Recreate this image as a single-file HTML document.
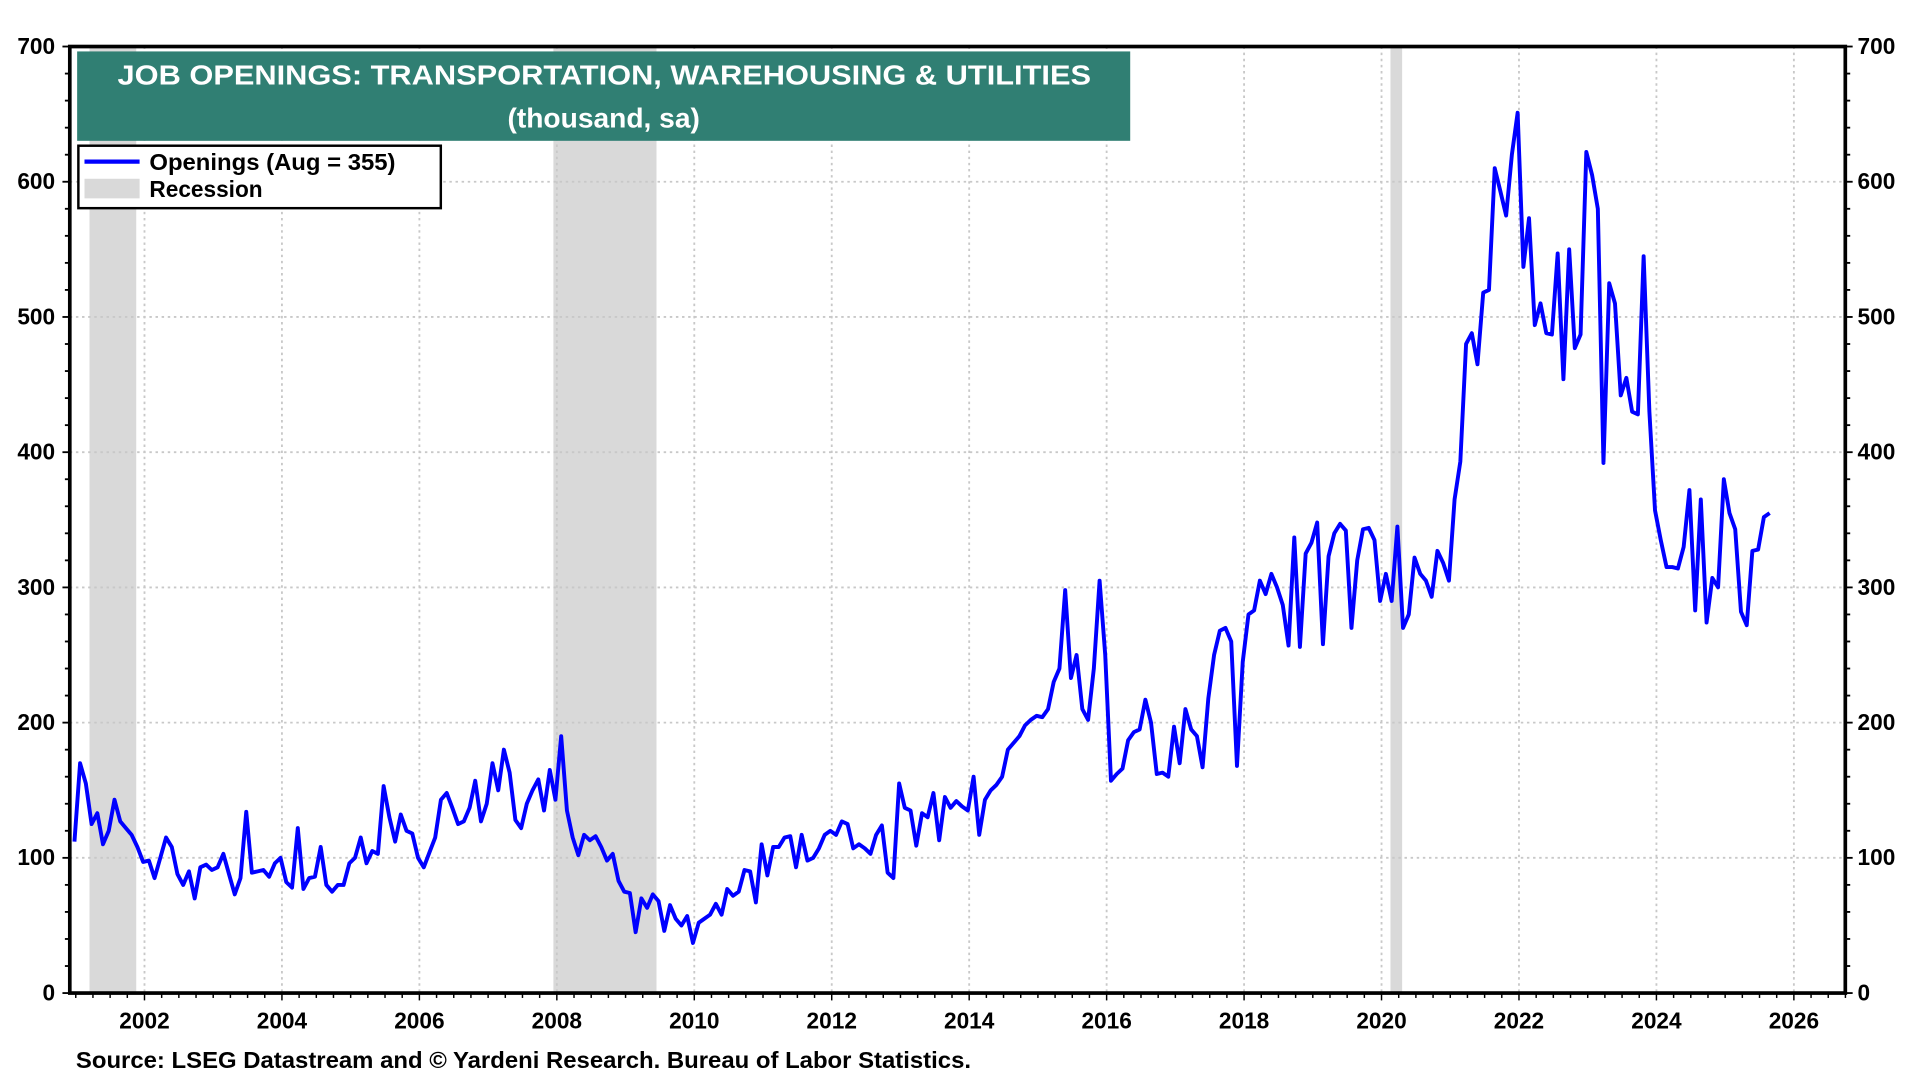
<!DOCTYPE html>
<html><head><meta charset="utf-8"><style>
html,body{margin:0;padding:0;background:#fff;}
svg{display:block;font-family:"Liberation Sans",Arial,sans-serif;font-weight:bold;}
</style></head><body>
<svg id="c" width="1920" height="1080" viewBox="0 0 1568 882" xmlns="http://www.w3.org/2000/svg">
<rect x="0" y="0" width="1568" height="882" fill="#fff"/>
<g id="rec"></g>
<g id="grid"></g>
<path id="line" fill="none" stroke="#0000ff" stroke-width="3.2" stroke-linejoin="round"/>
<rect x="63" y="42" width="860" height="73" fill="#307f73"/>
<text x="96" y="69" fill="#fff" font-size="23" textLength="795" lengthAdjust="spacingAndGlyphs">JOB OPENINGS: TRANSPORTATION, WAREHOUSING &amp; UTILITIES</text>
<text x="493" y="104" fill="#fff" font-size="23" text-anchor="middle">(thousand, sa)</text>
<rect x="64" y="119" width="296" height="51" fill="#fff" stroke="#000" stroke-width="2"/>
<line x1="69" y1="132" x2="114" y2="132" stroke="#0000ff" stroke-width="3.5"/>
<rect x="69" y="146" width="45" height="16" fill="#d9d9d9"/>
<text x="122" y="139" font-size="18.5" textLength="201" lengthAdjust="spacingAndGlyphs">Openings (Aug = 355)</text>
<text x="122" y="161" font-size="18.5">Recession</text>
<g id="axes"></g>
<text x="62" y="872" font-size="18.5" textLength="731" lengthAdjust="spacingAndGlyphs">Source: LSEG Datastream and © Yardeni Research. Bureau of Labor Statistics.</text>
</svg>
<script>
const L=57,R=1507,T=38,B=811;
const X=y=>118+(y-2002)*(1465-118)/24;
const Y=v=>B-v*(B-T)/700;
const NS="http://www.w3.org/2000/svg";
function el(p,t,a,txt){const e=document.createElementNS(NS,t);for(const k in a)e.setAttribute(k,a[k]);if(txt!==undefined)e.textContent=txt;document.getElementById(p).appendChild(e);return e;}
[[2001.2,2001.88],[2007.95,2009.45],[2020.13,2020.3]].forEach(r=>el("rec","rect",{x:X(r[0]),y:T,width:X(r[1])-X(r[0]),height:B-T,fill:"#d9d9d9"}));
for(let v=100;v<700;v+=100)el("grid","line",{x1:L,x2:R,y1:Y(v),y2:Y(v),stroke:"#c8c8c8","stroke-width":1.5,"stroke-dasharray":"2,3"});
for(let y=2002;y<=2026;y+=2)el("grid","line",{x1:X(y),x2:X(y),y1:T,y2:B,stroke:"#c8c8c8","stroke-width":1.5,"stroke-dasharray":"2,3"});
const d=[112,170,155,125,133,110,120,143,127,122,117,108,97,98,85,100,115,108,88,80,90,70,93,95,91,93,103,88,73,85,134,89,90,91,86,96,100,82,78,122,77,85,86,108,80,75,80,80,96,100,115,96,105,103,153,130,112,132,120,118,100,93,104,115,143,148,137,125,127,137,157,127,140,170,150,180,163,128,122,140,150,158,135,165,143,190,135,115,102,117,113,116,108,98,103,83,75,74,45,70,63,73,68,46,65,55,50,57,37,52,55,58,66,58,77,72,75,91,90,67,110,87,108,108,115,116,93,117,98,100,107,117,120,117,127,125,107,110,107,103,117,124,89,85,155,137,135,109,133,130,148,113,145,137,142,138,135,160,117,143,150,154,160,180,185,190,198,202,205,204,210,230,240,298,233,250,210,202,240,305,250,157,162,166,187,193,195,217,200,162,163,160,197,170,210,195,190,167,218,250,268,270,260,168,245,280,283,305,295,310,300,287,257,337,256,325,333,348,258,323,340,347,342,270,320,343,344,335,290,310,290,345,270,280,322,310,305,293,327,318,305,365,393,480,488,465,518,520,610,593,575,620,651,537,573,494,510,488,487,547,454,550,477,487,622,605,580,392,525,510,442,455,430,428,545,430,357,335,315,315,314,330,372,283,365,274,307,300,380,355,343,282,272,327,328,352,355];
let p="";d.forEach((v,i)=>{const yr=2000.98+i/12;p+=(i?"L":"M")+X(yr).toFixed(1)+","+Y(v).toFixed(1);});
document.getElementById("line").setAttribute("d",p);
el("axes","rect",{x:L,y:T,width:R-L,height:B-T,fill:"none",stroke:"#000","stroke-width":3});
for(let v=0;v<=700;v+=20){const big=v%100==0;el("axes","line",{x1:L-(big?6:4),x2:L,y1:Y(v),y2:Y(v),stroke:"#000","stroke-width":1.5});el("axes","line",{x1:R,x2:R+(big?6:4),y1:Y(v),y2:Y(v),stroke:"#000","stroke-width":1.5});
if(big){el("axes","text",{x:L-12,y:Y(v)+6,"font-size":18.5,"text-anchor":"end"},v);el("axes","text",{x:R+10,y:Y(v)+6,"font-size":18.5},v);}}
for(let q=2001;q<=2026.75;q+=0.25){const big=Number.isInteger(q)&&q%2==0;el("axes","line",{x1:X(q),x2:X(q),y1:B,y2:B+(big?6:4),stroke:"#000","stroke-width":1.2});
if(big)el("axes","text",{x:X(q),y:B+29,"font-size":18.5,"text-anchor":"middle"},q);}
</script>
</body></html>
